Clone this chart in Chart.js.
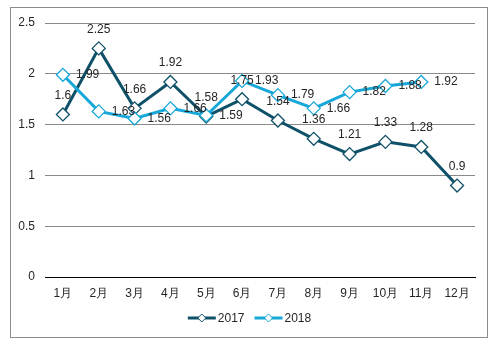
<!DOCTYPE html>
<html>
<head>
<meta charset="utf-8">
<script src="https://cdn.jsdelivr.net/npm/chart.js@4/dist/chart.umd.min.js"></script>
<style>
  html, body { margin: 0; padding: 0; background: #fff; }
  #wrap { width: 491px; height: 341px; position: relative; }
</style>
</head>
<body>
<div id="wrap"><canvas id="c" width="491" height="341"></canvas></div>
<script>
const months = ['1月', '2月', '3月', '4月', '5月', '6月', '7月', '8月', '9月', '10月', '11月', '12月'];
const series2017 = [1.6, 2.25, 1.66, 1.92, 1.58, 1.75, 1.54, 1.36, 1.21, 1.33, 1.28, 0.9];
const series2018 = [1.99, 1.63, 1.56, 1.66, 1.59, 1.93, 1.79, 1.66, 1.82, 1.88, 1.92, null];
const yTicks = [0, 0.5, 1, 1.5, 2, 2.5];

const FONT = '"Liberation Sans", Arial, sans-serif';
const DARK = '#0f5168';
const LIGHT = '#17a7d8';
const TEXT = '#262626';

// outer border around the whole figure
const framePlugin = {
  id: 'frame',
  afterDraw(chart) {
    const ctx = chart.ctx;
    ctx.save();
    ctx.strokeStyle = '#8c8c8c';
    ctx.lineWidth = 1;
    ctx.strokeRect(10.5, 7.5, 477, 330);
    ctx.restore();
  }
};

// value labels: 2017 above the markers, 2018 to the right
const valueLabels = {
  id: 'valueLabels',
  afterDatasetsDraw(chart) {
    const ctx = chart.ctx;
    ctx.save();
    ctx.font = '12px ' + FONT;
    ctx.fillStyle = TEXT;
    chart.data.datasets.forEach((ds, i) => {
      const meta = chart.getDatasetMeta(i);
      meta.data.forEach((pt, j) => {
        const v = ds.data[j];
        if (v === null || v === undefined) return;
        if (ds.labelPos === 'above') {
          ctx.textAlign = 'center';
          ctx.textBaseline = 'middle';
          ctx.fillText(String(v), pt.x, pt.y - 19);
        } else {
          ctx.textAlign = 'left';
          ctx.textBaseline = 'middle';
          ctx.fillText(String(v), pt.x + 13, pt.y);
        }
      });
    });
    ctx.restore();
  }
};

// legend drawn as line + diamond marker, Excel style
const lineLegend = {
  id: 'lineLegend',
  afterDraw(chart) {
    const ctx = chart.ctx;
    const y = 318;
    const items = chart.data.datasets;
    ctx.save();
    ctx.font = '12px ' + FONT;
    const lineLen = 28, gap = 2, spacing = 10;
    const widths = items.map(d => lineLen + gap + ctx.measureText(d.label).width);
    const total = widths.reduce((a, b) => a + b, 0) + spacing * (items.length - 1);
    let x = chart.width / 2 - total / 2 + 4;
    items.forEach((d, i) => {
      ctx.strokeStyle = d.borderColor;
      ctx.lineWidth = 3;
      ctx.beginPath();
      ctx.moveTo(x, y);
      ctx.lineTo(x + lineLen, y);
      ctx.stroke();
      const cx = x + lineLen / 2, r = 4;
      ctx.beginPath();
      ctx.moveTo(cx, y - r);
      ctx.lineTo(cx + r, y);
      ctx.lineTo(cx, y + r);
      ctx.lineTo(cx - r, y);
      ctx.closePath();
      ctx.fillStyle = '#fff';
      ctx.fill();
      ctx.lineWidth = 1;
      ctx.stroke();
      ctx.fillStyle = TEXT;
      ctx.textAlign = 'left';
      ctx.textBaseline = 'middle';
      ctx.fillText(d.label, x + lineLen + gap, y + 1);
      x += widths[i] + spacing;
    });
    ctx.restore();
  }
};

new Chart(document.getElementById('c'), {
  type: 'line',
  data: {
    labels: months,
    datasets: [
      {
        label: '2017',
        data: series2017,
        borderColor: DARK,
        backgroundColor: '#fff',
        borderWidth: 3,
        pointStyle: 'rectRot',
        pointRadius: 6.5,
        pointBorderWidth: 1.3,
        pointBackgroundColor: '#fff',
        pointBorderColor: DARK,
        tension: 0,
        order: 1,
        labelPos: 'above'
      },
      {
        label: '2018',
        data: series2018,
        borderColor: LIGHT,
        backgroundColor: '#fff',
        borderWidth: 3,
        pointStyle: 'rectRot',
        pointRadius: 6.5,
        pointBorderWidth: 1.3,
        pointBackgroundColor: '#fff',
        pointBorderColor: LIGHT,
        tension: 0,
        order: 0,
        labelPos: 'right'
      }
    ]
  },
  options: {
    responsive: false,
    animation: false,
    devicePixelRatio: 1,
    layout: { padding: { left: 10, right: 16, top: 23, bottom: 34 } },
    plugins: {
      legend: { display: false },
      tooltip: { enabled: false }
    },
    scales: {
      x: {
        offset: true,
        grid: { display: false, drawTicks: false },
        border: { display: true, color: '#000', width: 1 },
        ticks: { color: TEXT, font: { family: FONT, size: 12 }, padding: 9, maxRotation: 0, autoSkip: false },
        afterFit(scale) { scale.height = 30; }
      },
      y: {
        min: 0,
        max: 2.5,
        afterBuildTicks(scale) { scale.ticks = yTicks.map(v => ({ value: v })); },
        grid: {
          color: ctx => ctx.tick && ctx.tick.value === 0 ? '#000' : '#8a8a8a',
          lineWidth: 1,
          drawTicks: false
        },
        border: { display: false },
        ticks: { color: TEXT, font: { family: FONT, size: 12 }, padding: 10, callback: v => String(v) },
        afterFit(scale) { scale.width = 35; }
      }
    }
  },
  plugins: [framePlugin, valueLabels, lineLegend]
});
</script>
</body>
</html>
